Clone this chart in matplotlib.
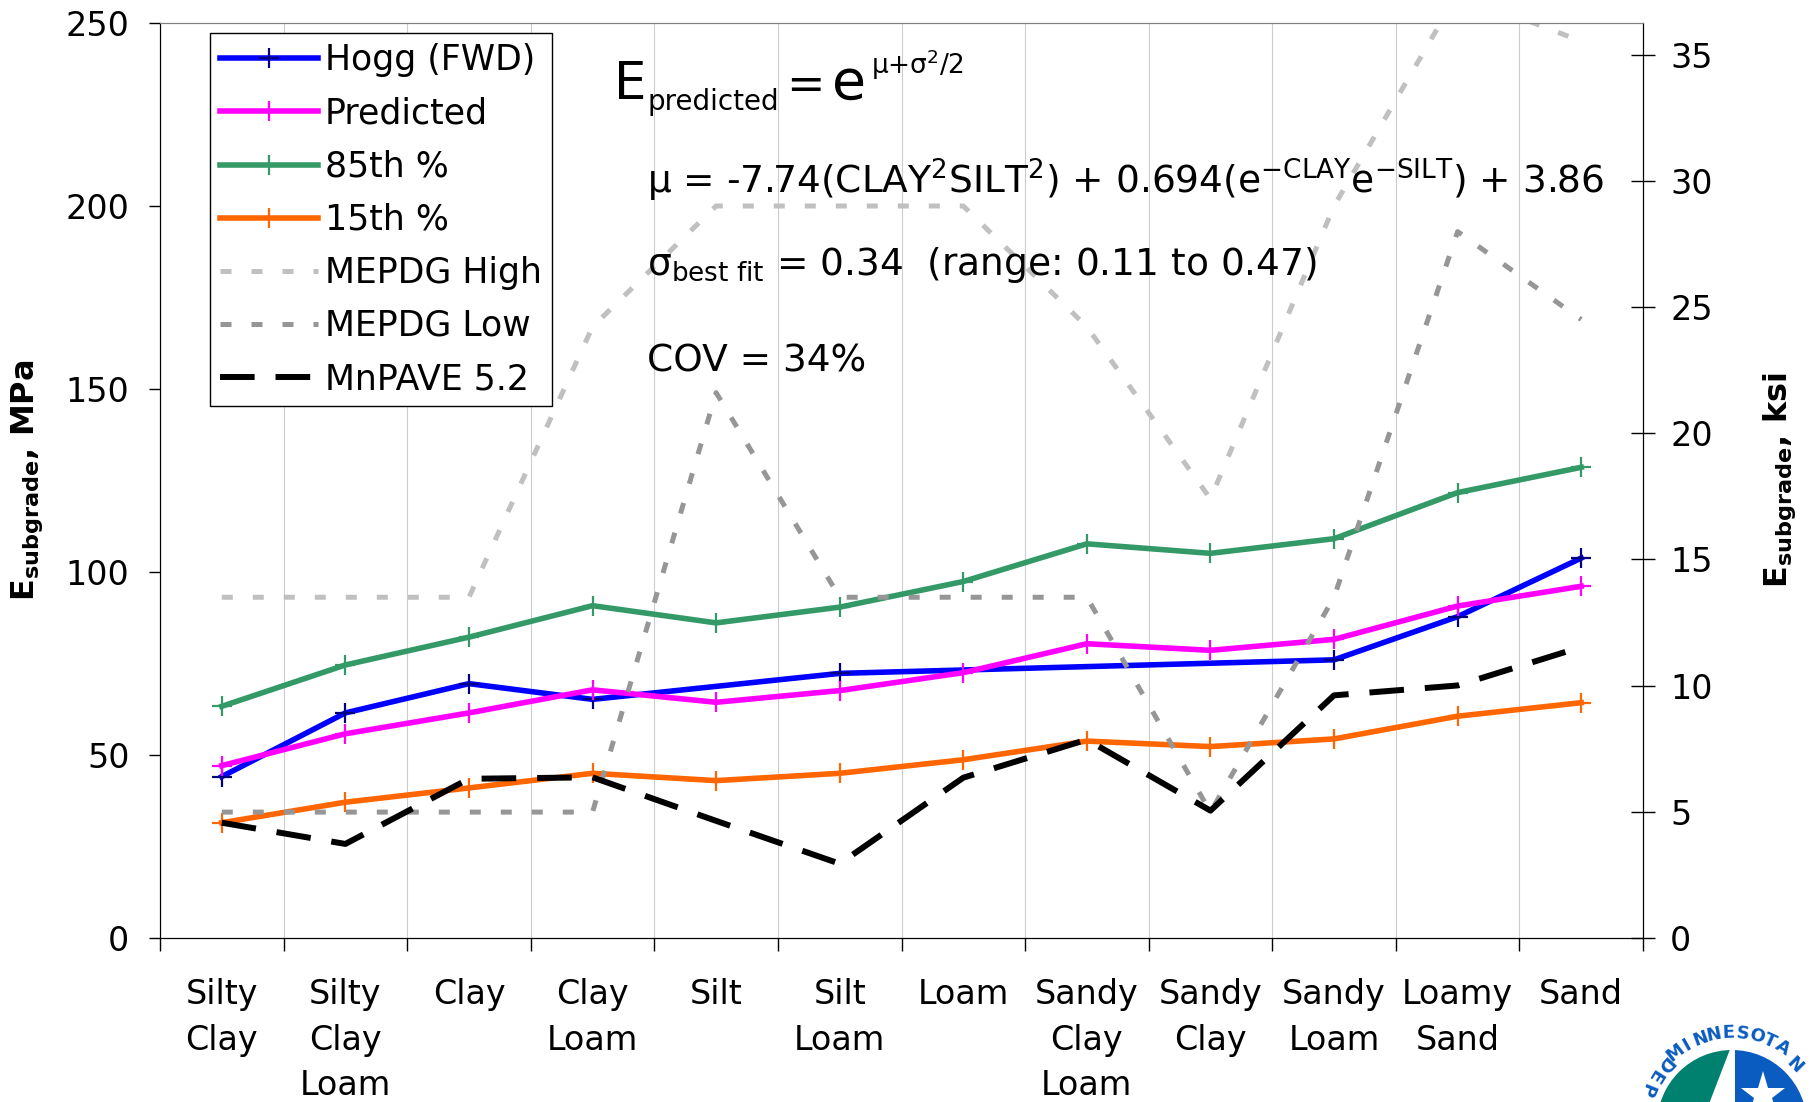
import numpy as np
import matplotlib
matplotlib.use("Agg")
import matplotlib.pyplot as plt
from matplotlib.patches import Circle, Polygon

# soil texture classes (x axis)
categories = ["Silty\nClay", "Silty\nClay\nLoam", "Clay", "Clay\nLoam", "Silt", "Silt\nLoam",
              "Loam", "Sandy\nClay\nLoam", "Sandy\nClay", "Sandy\nLoam", "Loamy\nSand", "Sand"]

# subgrade modulus, MPa (nan = no FWD value for that class)
hogg = [44.1, 61.5, 69.5, 65.2, np.nan, 72.3, np.nan, np.nan, np.nan, 76.0, 87.8, 103.8]
predicted = [47.1, 55.8, 61.5, 67.8, 64.4, 67.6, 72.5, 80.4, 78.6, 81.6, 90.7, 96.1]
pct85 = [63.3, 74.6, 82.2, 90.8, 86.1, 90.4, 97.4, 107.7, 105.1, 109.1, 121.7, 128.6]
pct15 = [31.5, 37.1, 41.0, 45.0, 43.0, 45.0, 48.7, 53.8, 52.3, 54.4, 60.6, 64.3]
mepdg_high = [93.1, 93.1, 93.1, 167, 200, 200, 200, 167, 120, 200, 258, 245]
mepdg_low = [34.4, 34.4, 34.4, 34.4, 149, 93.1, 93.1, 93.1, 34.4, 93.1, 193, 169]
mnpave = [31.5, 25.7, 43.5, 43.9, 32.0, 20.3, 43.8, 54.2, 34.8, 66.3, 69.0, 79.5]

left_ticks = [0, 50, 100, 150, 200, 250]
right_ticks = [0, 5, 10, 15, 20, 25, 30, 35]
MPA_PER_KSI = 6.895

plt.rcParams['font.family'] = ['DejaVu Sans']
plt.rcParams['mathtext.fontset'] = 'dejavusans'

W, H = 1816, 1102


def px(xp, yp):
    # figure fraction from pixel position (origin top-left)
    return xp / W, 1 - yp / H


fig = plt.figure(figsize=(W / 100, H / 100), dpi=100)
ax = fig.add_axes([160 / W, 1 - 938 / H, (1643 - 160) / W, (938 - 23) / H])

x = np.arange(len(categories)) + 0.5
mk = dict(marker='+', ms=15, mew=1.6)

h = np.array(hogg, dtype=float)
ok = ~np.isnan(h)
ax.plot(x[ok], h[ok], color='#0000ff', lw=4, mec='#000080', label='Hogg (FWD)', **mk)
ax.plot(x, predicted, color='#ff00ff', lw=4, label='Predicted', **mk)
ax.plot(x, pct85, color='#339966', lw=4, label='85th %', **mk)
ax.plot(x, pct15, color='#ff6600', lw=4, label='15th %', **mk)
ax.plot(x, mepdg_high, color='#c0c0c0', lw=3.6, dashes=(2.2, 4.0), label='MEPDG High')
ax.plot(x, mepdg_low, color='#969696', lw=3.6, dashes=(2.2, 4.0), label='MEPDG Low')
ax.plot(x, mnpave, color='black', lw=4.3, dashes=(5.8, 3.5), label='MnPAVE 5.2')

ax.set_xlim(0, len(categories))
ax.set_ylim(0, 250)
ax.set_yticks(left_ticks)
ax.set_xticks(np.arange(len(categories) + 1))
ax.set_xticklabels([])
ax.set_xticks(x, minor=True)
ax.set_xticklabels(categories, minor=True)
for lab in ax.get_xticklabels(minor=True):
    lab.set_linespacing(1.48)
ax.tick_params(axis='x', which='major', direction='out', length=9, width=1)
ax.tick_params(axis='x', which='minor', length=0, pad=29, labelsize=24)
ax.tick_params(axis='y', direction='out', length=8, width=1, labelsize=24, pad=14)
ax.grid(axis='x', which='major', color='#cccccc', lw=0.8)
ax.spines['top'].set_color('#808080')

ax2 = ax.twinx()
ax2.set_ylim(0, 250 / MPA_PER_KSI)
ax2.set_yticks(right_ticks)
ax2.tick_params(axis='y', direction='inout', length=17, width=1, labelsize=24, pad=11)
ax2.spines['top'].set_color('#808080')

leg = ax.legend(loc='upper left', bbox_to_anchor=(0.0337, 0.989), borderaxespad=0,
                fontsize=25, fancybox=False, edgecolor='black', framealpha=1,
                handlelength=2.8, handletextpad=0.2, labelspacing=0.55,
                borderpad=0.3, numpoints=1)
leg.get_frame().set_linewidth(1.0)

# model equations
fig.text(*px(614, 99), 'E', fontsize=37, va='baseline')
fig.text(*px(648, 110), 'predicted', fontsize=20, va='baseline')
fig.text(*px(786, 99), '=', fontsize=33, va='baseline')
fig.text(*px(832, 99), 'e', fontsize=40, va='baseline')
fig.text(*px(871, 74), r'μ+σ$^{2}$/2', fontsize=19, va='baseline')
ax.text(0.3284, 0.814,
        r'μ = -7.74(CLAY$^{2}$SILT$^{2}$) + 0.694(e$^{\mathrm{-CLAY}}$e$^{\mathrm{-SILT}}$) + 3.86',
        transform=ax.transAxes, fontsize=27, va='baseline')
ax.text(0.3284, 0.7246, r'σ$_{\mathrm{best\ fit}}$ = 0.34  (range: 0.11 to 0.47)',
        transform=ax.transAxes, fontsize=27, va='baseline')
ax.text(0.3284, 0.6186, 'COV = 34%', transform=ax.transAxes, fontsize=27, va='baseline')

fig.text(*px(27, 480), r'$\mathbf{E_{subgrade}}$, MPa', rotation=90, fontsize=23,
         fontweight='bold', ha='center', va='center')
fig.text(*px(1780, 480), r'$\mathbf{E_{subgrade}}$, ksi', rotation=90, fontsize=23,
         fontweight='bold', ha='center', va='center')

# MnDOT logo, partly cut off in the bottom right corner
lax = fig.add_axes([0, 0, 1, 1])
lax.set_xlim(0, W)
lax.set_ylim(H, 0)
lax.axis('off')
cx, cy, r_in, r_txt = 1732, 1125, 75, 92
blue = '#0a5cc0'
teal = Circle((cx, cy), r_in, color='#00806f', lw=0)
lax.add_patch(teal)
teal.set_clip_path(Polygon([(1550, 1000), (1749, 1000), (1672, 1200), (1550, 1200)],
                           transform=lax.transData))
disc = Circle((cx, cy), r_in, color=blue, lw=0)
lax.add_patch(disc)
disc.set_clip_path(Polygon([(1735, 1000), (1900, 1000), (1900, 1200), (1735, 1200)],
                           transform=lax.transData))
lax.plot([1763], [1095], marker='*', ms=34, color='white', mew=0)


def ring_char(ch, deg, rot):
    t = np.radians(deg)
    xc, yc = cx + r_txt * np.sin(t), cy - r_txt * np.cos(t)
    if yc < H - 10 and xc < W - 10:   # only letters that fit inside the picture
        lax.text(xc, yc, ch, rotation=rot, ha='center', va='center',
                 fontsize=13, fontweight='bold', color=blue)


for i, ch in enumerate("MINNESOTA"):
    d = -38 + i * 8.9
    ring_char(ch, d, -d)
for i, ch in enumerate("DEPARTMENT OF TRANSPORTATION"):
    d = 312 - i * 9.89
    ring_char(ch, d, 180 - d)

fig.savefig('out.png', dpi=100)
